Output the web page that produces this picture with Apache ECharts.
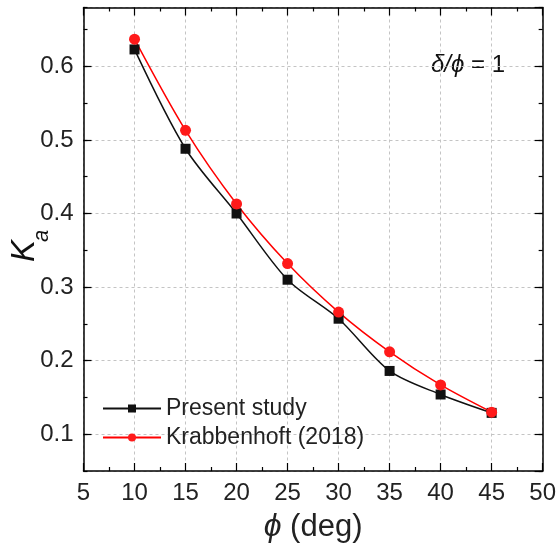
<!DOCTYPE html>
<html><head><meta charset="utf-8">
<script src="https://cdn.jsdelivr.net/npm/echarts@6/dist/echarts.min.js"></script>
<style>html,body{margin:0;padding:0;background:#fff}#c{width:559px;height:548px}</style>
</head><body><div id="c"></div>
<script>
const phi = [10, 15, 20, 25, 30, 35, 40, 45];
const presentStudy = [0.623, 0.488, 0.400, 0.310, 0.257, 0.186, 0.154, 0.129];
const krabbenhoft = [0.637, 0.513, 0.413, 0.332, 0.266, 0.212, 0.167, 0.130];
const seriesNames = ['Present study', 'Krabbenhoft (2018)'];

const FONT = '"Liberation Sans", Arial, sans-serif';
const X_MIN = 5, X_MAX = 50, Y_MIN = 0.05, Y_MAX = 0.68;

const chart = echarts.init(document.getElementById('c'), null, {renderer: 'canvas'});
const axisLine = {show: true, onZero: false, lineStyle: {color: '#000', width: 1.5}};
const dashed = {show: true, lineStyle: {color: '#c4c4c4', type: [3, 3], width: 1}};

function xAx(pos, labels) {
  return {
    type: 'value', position: pos, min: X_MIN, max: X_MAX, interval: 5,
    axisLine: axisLine,
    axisTick: {show: true, inside: true, length: 8, lineStyle: {color: '#000', width: 1.2}},
    minorTick: {show: true, splitNumber: 2, length: 4, lineStyle: {color: '#000', width: 1.2}},
    axisLabel: {show: labels, color: '#222', fontSize: 24, fontFamily: FONT, margin: 10},
    splitLine: labels ? dashed : {show: false},
    name: labels ? '{p|\u03D5} (deg)' : '',
    nameLocation: 'middle', nameGap: 40,
    nameTextStyle: {fontSize: 31, fontFamily: FONT, color: '#222',
      rich: {p: {fontStyle: 'italic', fontSize: 32, fontFamily: FONT, color: '#222'}}}
  };
}
function yMajor(pos, labels) {
  return {
    type: 'value', position: pos, min: Y_MIN, max: Y_MAX, splitNumber: 6,
    axisLine: axisLine,
    axisTick: {show: true, inside: true, length: 8, lineStyle: {color: '#000', width: 1.2}},
    axisLabel: {show: labels, color: '#222', fontSize: 24, fontFamily: FONT, margin: 10,
      showMinLabel: false, showMaxLabel: false},
    splitLine: labels ? dashed : {show: false}
  };
}
function yMinor(pos) {
  return {
    type: 'value', position: pos, min: Y_MIN, max: Y_MAX, interval: 0.05,
    axisLine: {show: false},
    axisTick: {show: true, inside: true, length: 4, lineStyle: {color: '#000', width: 1.2}},
    axisLabel: {show: false}, splitLine: {show: false}
  };
}

chart.setOption({
  animation: false,
  backgroundColor: '#fff',
  grid: {left: 83.5, top: 7.5, right: 15, bottom: 75.5},
  xAxis: [xAx('bottom', true), xAx('top', false)],
  yAxis: [yMajor('left', true), yMajor('right', false), yMinor('left'), yMinor('right')],
  legend: {
    orient: 'vertical', left: 97, top: 392, itemWidth: 58, itemHeight: 10, itemGap: 6,
    textStyle: {fontSize: 23, fontFamily: FONT, color: '#222'},
    data: seriesNames
  },
  series: [
    {name: seriesNames[0], type: 'line', smooth: 0.3,
     data: phi.map((p, i) => [p, presentStudy[i]]),
     symbol: 'rect', symbolSize: 10,
     lineStyle: {color: '#111', width: 1.5}, itemStyle: {color: '#111'}},
    {name: seriesNames[1], type: 'line', smooth: 0.3,
     data: phi.map((p, i) => [p, krabbenhoft[i]]),
     symbol: 'circle', symbolSize: 11,
     lineStyle: {color: '#ff0000', width: 1.5}, itemStyle: {color: '#ff1a1a'}}
  ],
  graphic: [
    {type: 'text', x: 8, y: 262, rotation: Math.PI / 2,
     style: {text: 'K', fontSize: 33, fontStyle: 'italic', fontFamily: FONT, fill: '#111',
       textAlign: 'left', textVerticalAlign: 'top'}},
    {type: 'text', x: 31, y: 242, rotation: Math.PI / 2,
     style: {text: 'a', fontSize: 22, fontStyle: 'italic', fontFamily: FONT, fill: '#111',
       textAlign: 'left', textVerticalAlign: 'top'}},
    {type: 'text', x: 431, y: 53,
     style: {text: '{i|\u03B4/\u03D5} = 1', fontSize: 24, fontFamily: FONT, fill: '#111',
       rich: {i: {fontStyle: 'italic', fontSize: 24, fontFamily: FONT, fill: '#111'}}}}
  ]
});
</script></body></html>
